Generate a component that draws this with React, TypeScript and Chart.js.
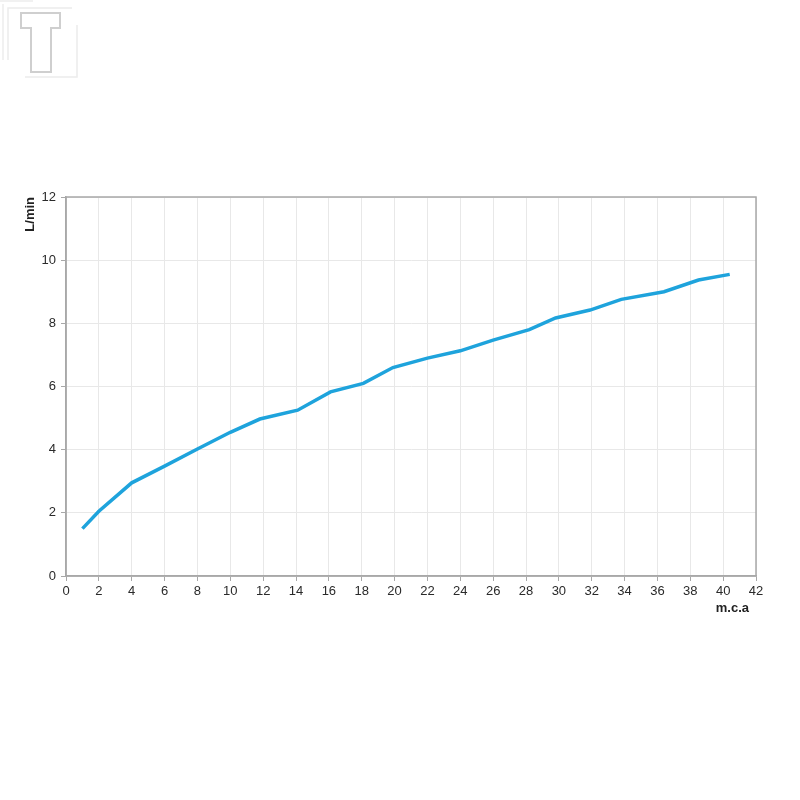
import React, { useEffect, useRef } from "react";
import { Chart, registerables } from "chart.js";

Chart.register(...registerables);

// Pressure (m.c.a) vs flow (L/min)
const pressure = [1, 2, 4, 6, 8, 10, 11.8, 14.1, 16.1, 18.1, 19.9, 22, 24, 26, 28.2, 29.8, 31.9, 33.8, 36.4, 38.5, 40.4];
const flow = [1.5, 2.05, 2.95, 3.48, 4.02, 4.55, 4.97, 5.25, 5.83, 6.1, 6.6, 6.9, 7.13, 7.47, 7.8, 8.17, 8.42, 8.76, 9.0, 9.37, 9.55];

const xMin = 0;
const xMax = 42;
const xStep = 2;
const yMin = 0;
const yMax = 12;
const yStep = 2;

const xTitle = "m.c.a";
const yTitle = "L/min";

const FONT = "'Liberation Sans', Arial, sans-serif";

// Grey frame around the plotting area plus the x-axis caption under the last ticks
const framePlugin = {
  id: "frame",
  afterDatasetsDraw(chart: any) {
    const { ctx, chartArea } = chart;
    ctx.save();
    ctx.strokeStyle = "#a8a8a8";
    ctx.lineWidth = 1.5;
    ctx.strokeRect(chartArea.left, chartArea.top, chartArea.right - chartArea.left, chartArea.bottom - chartArea.top);
    ctx.fillStyle = "#222";
    ctx.font = `bold 13px ${FONT}`;
    ctx.textAlign = "right";
    ctx.textBaseline = "middle";
    ctx.fillText(xTitle, chartArea.right - 7, chartArea.bottom + 32);
    ctx.restore();
  },
};

function Logo() {
  return (
    <svg width={100} height={90} style={{ position: "absolute", left: 0, top: 0 }}>
      <g fill="none" stroke="#ececec" strokeWidth={1.5}>
        <polyline points="0,1 33,1" />
        <polyline points="3,4 3,60" />
        <polyline points="8,60 8,8 72,8" />
        <polyline points="77,25 77,77 25,77" />
      </g>
      <polygon
        points="21,13 60,13 60,28 51,28 51,72 31,72 31,28 21,28"
        fill="#fff"
        stroke="#cfcfcf"
        strokeWidth={2}
      />
    </svg>
  );
}

export default function App() {
  const canvasRef = useRef<HTMLCanvasElement | null>(null);

  useEffect(() => {
    const canvas = canvasRef.current;
    if (!canvas) return;
    const chart = new Chart(canvas, {
      type: "line",
      data: {
        datasets: [
          {
            data: pressure.map((p, i) => ({ x: p, y: flow[i] })),
            borderColor: "#1ea3dc",
            borderWidth: 3.5,
            pointRadius: 0,
            tension: 0,
            fill: false,
          },
        ],
      },
      options: {
        animation: false,
        responsive: false,
        maintainAspectRatio: false,
        layout: { padding: { left: 0, top: 197, right: 44, bottom: 182 } },
        plugins: { legend: { display: false }, tooltip: { enabled: false } },
        scales: {
          x: {
            type: "linear",
            min: xMin,
            max: xMax,
            afterFit: (s: any) => {
              s.height = 42;
            },
            ticks: {
              stepSize: xStep,
              color: "#2a2a2a",
              font: { family: FONT, size: 13 },
              padding: 3,
              maxRotation: 0,
            },
            grid: { color: "#e8e8e8", tickColor: "#a8a8a8", tickLength: 5, lineWidth: 1 },
            border: { color: "#a8a8a8", width: 1.5 },
          },
          y: {
            type: "linear",
            min: yMin,
            max: yMax,
            afterFit: (s: any) => {
              s.width = 66;
            },
            ticks: {
              stepSize: yStep,
              color: "#2a2a2a",
              font: { family: FONT, size: 13 },
              padding: 5,
            },
            grid: { color: "#e8e8e8", tickColor: "#a8a8a8", tickLength: 5, lineWidth: 1 },
            border: { color: "#a8a8a8", width: 1.5 },
            title: {
              display: true,
              text: yTitle,
              align: "end",
              color: "#222",
              font: { family: FONT, size: 13, weight: "bold" },
              padding: { top: 23, bottom: 0 },
            },
          },
        },
      },
      plugins: [framePlugin],
    });
    return () => chart.destroy();
  }, []);

  return (
    <div style={{ position: "fixed", left: 0, top: 0, width: 800, height: 800, background: "#fff" }}>
      <Logo />
      <canvas ref={canvasRef} width={800} height={800} style={{ position: "absolute", left: 0, top: 0 }} />
    </div>
  );
}
